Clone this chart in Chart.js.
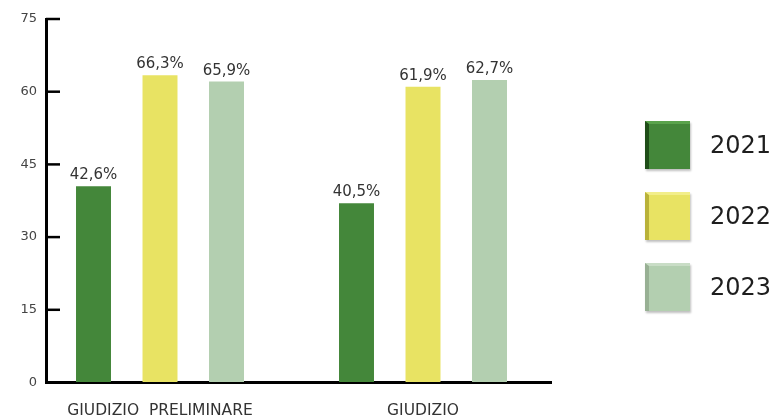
<!DOCTYPE html>
<html>
<head>
<meta charset="utf-8">
<script src="https://cdn.jsdelivr.net/npm/chart.js@4"></script>
<style>
    html, body { margin: 0; padding: 0; background: #fff; }
    .wrap { position: relative; width: 778px; height: 419px; overflow: hidden; }
    #chart { position: absolute; left: 0; top: 0; }
    .legend { position: absolute; left: 645px; top: 121px; }
    .legend-item { position: relative; height: 71px; }
    .legend-box {
        position: absolute; left: 0; top: 0; width: 41px; height: 45px;
        border-left: 4px solid; border-top: 3px solid;
        box-shadow: 1px 2px 2px rgba(0, 0, 0, 0.25);
    }
    .legend-text {
        position: absolute; left: 65px; top: 9px;
        font-family: 'DejaVu Sans', sans-serif; font-size: 24px; color: #1e1e1e;
        line-height: 30px;
    }
</style>
</head>
<body>
<div class="wrap">
    <canvas id="chart" width="778" height="419"></canvas>
    <div class="legend" id="legend"></div>
</div>
<script>
// --- DATA ---
const categories = ['GIUDIZIO  PRELIMINARE', 'GIUDIZIO'];
const seriesNames = ['2021', '2022', '2023'];
const values2021 = [40.5, 37.0];
const values2022 = [63.4, 61.0];
const values2023 = [62.1, 62.4];
const labels2021 = ['42,6%', '40,5%'];
const labels2022 = ['66,3%', '61,9%'];
const labels2023 = ['65,9%', '62,7%'];
const yTicks = [0, 15, 30, 45, 60, 75];

const colors = ['#44873a', '#e8e363', '#b3cfb0'];
const sideColors = ['#1f4d18', '#b9b23a', '#98b094'];
const topColors = ['#5aa34c', '#f2ee8a', '#c9ddc6'];

const seriesValues = [values2021, values2022, values2023];
const seriesLabels = [labels2021, labels2022, labels2023];

document.addEventListener('DOMContentLoaded', () => {
    // --- HTML LEGEND ---
    const legend = document.getElementById('legend');
    seriesNames.forEach((name, i) => {
        const item = document.createElement('div');
        item.className = 'legend-item';
        item.innerHTML = `<div class="legend-box" style="background:${colors[i]};border-left-color:${sideColors[i]};border-top-color:${topColors[i]}"></div>` +
            `<div class="legend-text">${name}</div>`;
        legend.appendChild(item);
    });

    // inward tick marks on the y axis
    const innerTicks = {
        id: 'innerTicks',
        afterDraw(chart) {
            const y = chart.scales.y;
            const ctx = chart.ctx;
            ctx.save();
            ctx.strokeStyle = '#000';
            ctx.lineWidth = 2.5;
            yTicks.forEach(v => {
                if (v === 0) return;
                const py = y.getPixelForValue(v);
                ctx.beginPath();
                ctx.moveTo(chart.chartArea.left, py);
                ctx.lineTo(chart.chartArea.left + 14, py);
                ctx.stroke();
            });
            ctx.restore();
        }
    };

    // value labels above bars
    const barLabels = {
        id: 'barLabels',
        afterDatasetsDraw(chart) {
            const ctx = chart.ctx;
            ctx.save();
            ctx.font = '15px "DejaVu Sans"';
            ctx.fillStyle = '#333';
            ctx.textAlign = 'center';
            ctx.textBaseline = 'alphabetic';
            chart.data.datasets.forEach((ds, di) => {
                chart.getDatasetMeta(di).data.forEach((bar, i) => {
                    ctx.fillText(seriesLabels[di][i], bar.x, bar.y - 7);
                });
            });
            ctx.restore();
        }
    };

    const ctx = document.getElementById('chart');
    new Chart(ctx, {
        type: 'bar',
        data: {
            datasets: seriesNames.map((name, i) => ({
                label: name,
                data: seriesValues[i].map((v, j) => ({ x: j, y: v })),
                backgroundColor: colors[i],
                categoryPercentage: 0.7586,
                barPercentage: 0.526
            }))
        },
        options: {
            responsive: false,
            animation: false,
            layout: { padding: { left: 0, right: 227, top: 19, bottom: 0 } },
            plugins: {
                legend: { display: false },
                tooltip: { enabled: false }
            },
            scales: {
                x: {
                    type: 'linear',
                    offset: false,
                    min: -0.4335,
                    max: 1.4867,
                    afterBuildTicks: (scale) => { scale.ticks = categories.map((c, i) => ({ value: i })); },
                    afterFit: (scale) => { scale.height = 36.5; },
                    grid: { display: true, drawOnChartArea: false, drawTicks: false },
                    border: { display: true, color: '#000', width: 3 },
                    ticks: {
                        padding: 19,
                        color: '#333',
                        font: { family: "'DejaVu Sans'", size: 15.5 },
                        callback: (v) => categories[v] ?? ''
                    }
                },
                y: {
                    min: 0,
                    max: 75,
                    afterBuildTicks: (scale) => { scale.ticks = yTicks.map(v => ({ value: v })); },
                    afterFit: (scale) => { scale.width = 46; },
                    grid: { display: true, drawOnChartArea: false, drawTicks: false },
                    border: { display: true, color: '#000', width: 3 },
                    ticks: {
                        padding: 9,
                        color: '#444',
                        font: { family: "'DejaVu Sans'", size: 13 }
                    }
                }
            }
        },
        plugins: [innerTicks, barLabels]
    });
});
</script>
</body>
</html>
